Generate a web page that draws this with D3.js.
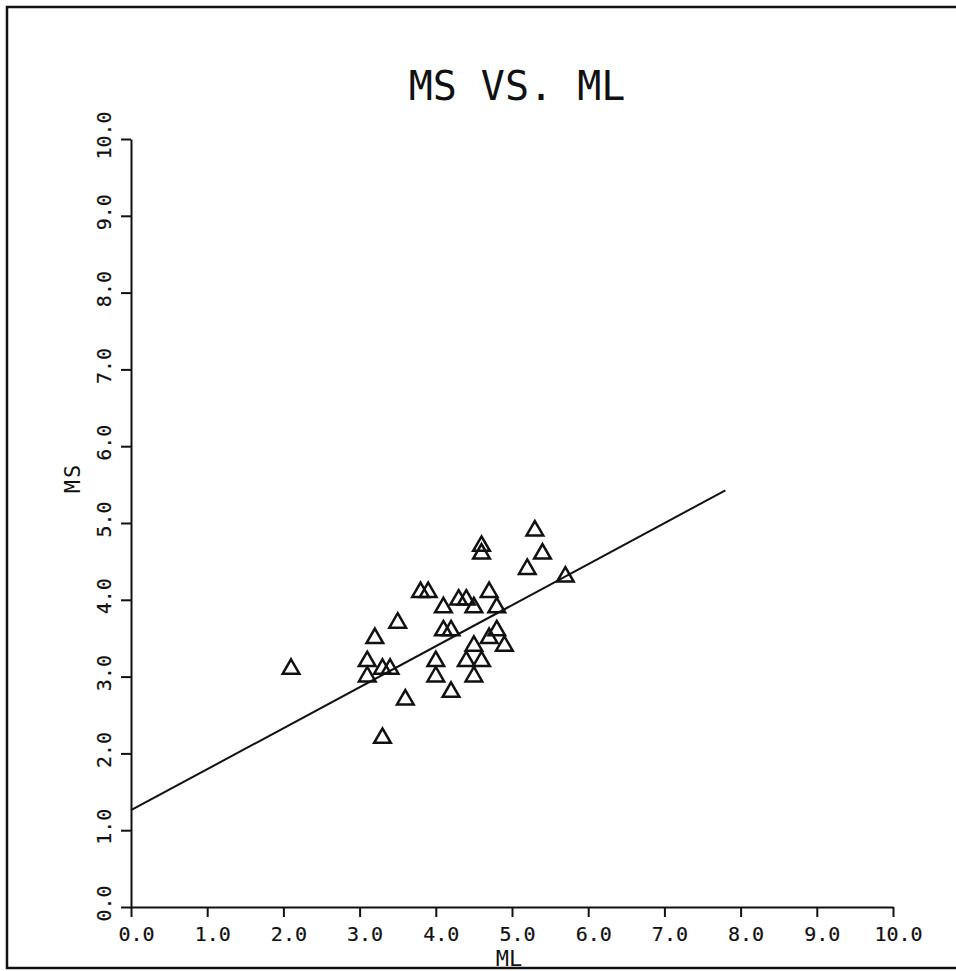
<!DOCTYPE html>
<html>
<head>
<meta charset="utf-8">
<script src="https://cdn.jsdelivr.net/npm/d3@7"></script>
<style>
  html, body { margin: 0; padding: 0; background: #fff; }
  svg { display: block; }
  text { font-family: "DejaVu Sans Mono", monospace; fill: #111; }
</style>
</head>
<body>
<script>
// data
var mlValues = [2.1, 3.1, 3.1, 3.2, 3.3, 3.4, 3.3, 3.5, 3.6, 3.8, 3.9, 4.0, 4.0, 4.1, 4.1, 4.2, 4.2,
                4.3, 4.4, 4.5, 4.4, 4.5, 4.5, 4.6, 4.6, 4.6, 4.7, 4.7, 4.8, 4.8, 4.9, 5.2, 5.3, 5.4, 5.7];
var msValues = [3.1, 3.2, 3.0, 3.5, 3.1, 3.1, 2.2, 3.7, 2.7, 4.1, 4.1, 3.2, 3.0, 3.9, 3.6, 3.6, 2.8,
                4.0, 4.0, 3.9, 3.2, 3.4, 3.0, 3.2, 4.7, 4.6, 4.1, 3.5, 3.9, 3.6, 3.4, 4.4, 4.9, 4.6, 4.3];
var tickValues = [0, 1, 2, 3, 4, 5, 6, 7, 8, 9, 10];
var fitIntercept = 1.26;
var fitSlope = 0.534;
var fitRange = [0, 7.8];

var width = 956;
var height = 971;

var svg = d3.select('body').append('svg')
  .attr('width', width)
  .attr('height', height);

// frame round the page (right edge falls off the sheet)
svg.append('rect')
  .attr('x', 7)
  .attr('y', 7)
  .attr('width', 960)
  .attr('height', 961)
  .attr('fill', 'none')
  .attr('stroke', '#111')
  .attr('stroke-width', 2.5);

var x = d3.scaleLinear().domain([0, 10]).range([131, 893]);
var y = d3.scaleLinear().domain([0, 10]).range([907, 139]);

// title
svg.append('text')
  .attr('x', 517)
  .attr('y', 100)
  .attr('text-anchor', 'middle')
  .style('font-size', '40px')
  .text('MS VS. ML');

// x axis
var xAxis = svg.append('g')
  .attr('transform', 'translate(0,' + y(0) + ')')
  .call(d3.axisBottom(x).tickValues(tickValues).tickSize(10).tickSizeOuter(0)
    .tickPadding(10).tickFormat(d3.format('.1f')));

xAxis.selectAll('text')
  .attr('dx', 5)
  .style('font-size', '20px')
  .style('fill', '#111')
  .style('stroke', '#111')
  .style('stroke-width', 0.2);

// y axis, labels written upright along the axis
var yAxis = svg.append('g')
  .attr('transform', 'translate(' + x(0) + ',0)')
  .call(d3.axisLeft(y).tickValues(tickValues).tickSize(10).tickSizeOuter(0).tickFormat(''));

yAxis.selectAll('.tick').append('text')
  .attr('transform', 'rotate(-90)')
  .attr('x', 4)
  .attr('y', -20)
  .attr('text-anchor', 'middle')
  .style('font-size', '20px')
  .style('fill', '#111')
  .style('stroke', '#111')
  .style('stroke-width', 0.2)
  .text(function (d) { return d3.format('.1f')(d); });

svg.selectAll('.domain, .tick line')
  .attr('stroke', '#111')
  .attr('stroke-width', 2);

// axis titles
svg.append('text')
  .attr('transform', 'translate(80,478) rotate(-90)')
  .attr('text-anchor', 'middle')
  .style('font-size', '22px')
  .style('letter-spacing', '2px')
  .text('MS');

svg.append('text')
  .attr('x', 509)
  .attr('y', 966)
  .attr('text-anchor', 'middle')
  .style('font-size', '22px')
  .text('ML');

// fitted line
var line = d3.line()
  .x(function (d) { return x(d); })
  .y(function (d) { return y(fitIntercept + fitSlope * d); });

svg.append('path')
  .datum(fitRange)
  .attr('d', line)
  .attr('fill', 'none')
  .attr('stroke', '#111')
  .attr('stroke-width', 2);

// points as open triangles
var points = mlValues.map(function (d, i) { return { ml: d, ms: msValues[i] }; });
var triangle = d3.symbol().type(d3.symbolTriangle).size(120);

svg.selectAll('.point')
  .data(points)
  .enter().append('path')
  .attr('class', 'point')
  .attr('d', triangle)
  .attr('transform', function (d) { return 'translate(' + x(d.ml) + ',' + y(d.ms) + ')'; })
  .attr('fill', 'none')
  .attr('stroke', '#111')
  .attr('stroke-width', 2.5);
</script>
</body>
</html>
